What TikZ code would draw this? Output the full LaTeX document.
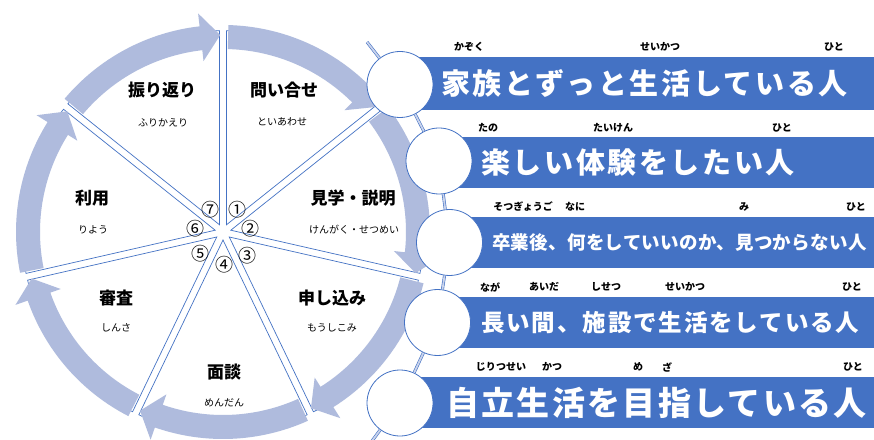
\documentclass[tikz,border=0pt]{standalone}
\usepackage{fontspec}
\newfontfamily\jp{Noto Sans CJK JP}
\definecolor{barblue}{HTML}{4472C4}
\definecolor{ringc}{HTML}{AFBBDD}
\definecolor{chainfill}{HTML}{C9D3EC}
\tikzset{
  sector/.style={fill=white, draw=barblue, line width=0.7pt},
  ringarrow/.style={fill=ringc},
  lab/.style={font=\jp\bfseries\fontsize{17}{17}\selectfont, inner sep=0pt},
  rd/.style={font=\jp\fontsize{10}{10}\selectfont, inner sep=0pt},
  num/.style={font=\jp\fontsize{18}{18}\selectfont, inner sep=0pt},
  furi/.style={font=\jp\bfseries\fontsize{10}{10}\selectfont, inner sep=0pt},
  bar/.style={fill=barblue},
  bartext/.style={text=white, inner sep=0pt, anchor=west},
  circ/.style={circle, draw=barblue, fill=white, line width=0.8pt, minimum size=66pt, inner sep=0pt},
  chain/.style={draw=barblue, line width=0.6pt, double=chainfill, double distance=1.8pt}
}
\begin{document}
\begin{tikzpicture}[x=1pt,y=1pt]
\useasboundingbox (0,0) rectangle (874,439);
\fill[white] (0,0) rectangle (874,439);

% cycle: sectors and ring arrows
\begin{scope}[shift={(223,207)}]
\foreach \k in {0,...,6}{
  \pgfmathsetmacro\a{90-51.4286*\k}
  \pgfmathsetmacro\b{\a-51.4286}
  \pgfmathsetmacro\m{\a-25.7143}
  \draw[sector] (\m:8) -- ++(\a:194) arc[start angle=\a, end angle=\b, radius=194] -- cycle;
}
\foreach \k in {0,...,6}{
  \pgfmathsetmacro\t{90-51.4286*\k-1.5}
  \pgfmathsetmacro\hb{90-51.4286*\k-51.4286+6.5}
  \pgfmathsetmacro\tp{90-51.4286*\k-51.4286+0.8}
  \fill[ringarrow] (\t:207) arc[start angle=\t, end angle=\hb, radius=207]
    -- (\hb:220) -- (\tp:197) -- (\hb:172) -- (\hb:183)
    arc[start angle=\hb, end angle=\t, radius=183] -- cycle;
}
\end{scope}

% sector labels
\node[lab] (l1) at (284,349) {問い合せ};
\node[rd]  (r1) at (282,317) {といあわせ};
\node[lab] (l2) at (353,241) {見学・説明};
\node[rd]  (r2) at (354,209) {けんがく・せつめい};
\node[lab] (l3) at (332,141) {申し込み};
\node[rd]  (r3) at (332,111) {もうしこみ};
\node[lab] (l4) at (224,67) {面談};
\node[rd]  (r4) at (224,36) {めんだん};
\node[lab] (l5) at (116,141) {審査};
\node[rd]  (r5) at (116,111) {しんさ};
\node[lab] (l6) at (92,241) {利用};
\node[rd]  (r6) at (93,209) {りよう};
\node[lab] (l7) at (162,349) {振り返り};
\node[rd]  (r7) at (163,316) {ふりかえり};

% step numbers
\node[num] (n1) at (237,229) {①};
\node[num] (n2) at (250,210) {②};
\node[num] (n3) at (247,183) {③};
\node[num] (n4) at (224,174) {④};
\node[num] (n5) at (200,185) {⑤};
\node[num] (n6) at (195,210) {⑥};
\node[num] (n7) at (210,229) {⑦};

% bars
\fill[bar] (400,329) rectangle (874,382);
\fill[bar] (439,251) rectangle (874,302);
\fill[bar] (449,171) rectangle (874,222);
\fill[bar] (437,91) rectangle (874,142);
\fill[bar] (400,11) rectangle (874,62);

% bar texts
\node[bartext, font=\jp\bfseries\fontsize{29}{29}\selectfont\addfontfeatures{LetterSpace=9}] (t1) at (441,355.5) {家族とずっと生活している人};
\node[bartext, font=\jp\bfseries\fontsize{29}{29}\selectfont\addfontfeatures{LetterSpace=9}] (t2) at (481,276.5) {楽しい体験をしたい人};
\node[bartext, font=\jp\bfseries\fontsize{18.5}{18.5}\selectfont\addfontfeatures{LetterSpace=1.5}] (t3) at (492,196.5) {卒業後、何をしていいのか、見つからない人};
\node[bartext, font=\jp\bfseries\fontsize{23.5}{23.5}\selectfont\addfontfeatures{LetterSpace=8}] (t4) at (481,116.5) {長い間、施設で生活をしている人};
\node[bartext, font=\jp\bfseries\fontsize{33}{33}\selectfont\addfontfeatures{LetterSpace=7}] (t5) at (446,36.5) {自立生活を目指している人};

% furigana
\node[furi] (f11) at (469,392) {かぞく};
\node[furi] (f12) at (660,392) {せいかつ};
\node[furi] (f13) at (834,392) {ひと};
\node[furi] (f21) at (488,311) {たの};
\node[furi] (f22) at (613,311) {たいけん};
\node[furi] (f23) at (782,311) {ひと};
\node[furi] (f31) at (523,232) {そつぎょうご};
\node[furi] (f32) at (575,232) {なに};
\node[furi] (f33) at (744,232) {み};
\node[furi] (f34) at (856,232) {ひと};
\node[furi] (f41) at (490,152) {なが};
\node[furi] (f42) at (544,152) {あいだ};
\node[furi] (f43) at (606,152) {しせつ};
\node[furi] (f44) at (685,152) {せいかつ};
\node[furi] (f45) at (852,152) {ひと};
\node[furi] (f51) at (501,72) {じりつせい};
\node[furi] (f52) at (552,72) {かつ};
\node[furi] (f53) at (638,72) {め};
\node[furi] (f54) at (667,72) {ざ};
\node[furi] (f55) at (853,72) {ひと};

% circles
\node[circ] (c1) at (400,354.5) {};
\node[circ] (c2) at (439,278) {};
\node[circ] (c3) at (449.5,196.5) {};
\node[circ] (c4) at (437.5,116.5) {};
\node[circ] (c5) at (400,36) {};
\coordinate (ctop) at (367,397);
\coordinate (cbot) at (372,-2);

% chain
\draw[chain] (ctop) -- (c1);
\draw[chain] (c1) -- (c2);
\draw[chain] (c2) -- (c3);
\draw[chain] (c3) -- (c4);
\draw[chain] (c4) -- (c5);
\draw[chain] (c5) -- (cbot);
\end{tikzpicture}
\end{document}
